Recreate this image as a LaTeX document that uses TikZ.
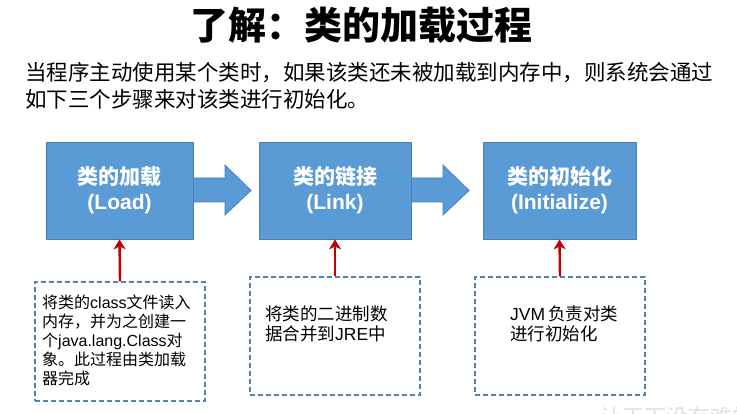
\documentclass[tikz,border=0pt]{standalone}
\usepackage{fontspec}
\setmainfont{Liberation Sans}
\newfontfamily\cjk{Noto Sans CJK SC}
\usetikzlibrary{calc,arrows.meta}
\definecolor{boxblue}{HTML}{5B9BD5}
\definecolor{boxedge}{HTML}{4A7EBB}
\definecolor{dashblue}{HTML}{5B80AD}
\definecolor{arrred}{HTML}{C00000}
\tikzset{
  bluebox/.style={draw=boxedge, fill=boxblue, line width=0.8pt, minimum width=147pt, minimum height=97pt,
    text=white, align=center, font=\fontsize{21}{25}\selectfont\bfseries, inner sep=0pt},
  barrow/.style={draw=boxedge, fill=boxblue, line width=0.8pt, line join=miter},
  dbox/.style={draw=dashblue, line width=1.1pt, dash pattern=on 5pt off 3pt, minimum width=170pt, minimum height=118pt},
  redarr/.style={draw=arrred, line width=2.4pt, -{Stealth[length=10pt,width=12pt,inset=3pt]}},
  desc/.style={anchor=north west, align=left, inner sep=0pt, text=black},
  intro/.style={anchor=west, inner sep=0pt, font=\cjk\fontsize{21.5}{24}\selectfont},
}
\begin{document}
\begin{tikzpicture}[x=1pt,y=-1pt]
\useasboundingbox (0,0) rectangle (737,414);
% title and intro
\node (title) at (361,25) {\cjk\bfseries\fontsize{38}{40}\selectfont 了解：类的加载过程};
\node[intro] (p1) at (25,73) {当程序主动使用某个类时，如果该类还未被加载到内存中，则系统会通过};
\node[intro] (p2) at (25,99) {如下三个步骤来对该类进行初始化。};
% block arrows (drawn first, boxes on top)
\coordinate (e1) at (193,190.5);
\coordinate (e2) at (411,190.5);
\foreach \e in {e1,e2}{
  \draw[barrow] ($(\e)+(0,-12.5)$) -- ($(\e)+(32,-12.5)$) -- ($(\e)+(32,-25.5)$) -- ($(\e)+(58,0)$)
     -- ($(\e)+(32,24.5)$) -- ($(\e)+(32,11.5)$) -- ($(\e)+(0,11.5)$);
}
% main boxes
\node[bluebox] (l1) at (119.5,190.5) {{\cjk\bfseries 类的加载}\\(Load)};
\node[bluebox, minimum width=152pt] (l2) at (335,190.5) {{\cjk\bfseries 类的链接}\\(Link)};
\node[bluebox, minimum width=153pt] (l3) at (559.5,190.5) {{\cjk\bfseries 类的初始化}\\(Initialize)};
% dashed description boxes
\node[dbox, minimum height=119pt] (d1) at (120,341.5) {};
\node[dbox] (d2) at (335,336) {};
\node[dbox] (d3) at (560,336) {};
\node[desc, font=\fontsize{16}{19}\selectfont] (t1) at (42,295)
  {{\cjk 将类的}class{\cjk 文件读入}\\{\cjk 内存，并为之创建一}\\{\cjk 个}java.lang.Class{\cjk 对}\\{\cjk 象。此过程由类加载}\\{\cjk 器完成}};
\node[desc, font=\fontsize{17.5}{20}\selectfont] (t2) at (265,306)
  {{\cjk 将类的二进制数}\\{\cjk 据合并到}JRE{\cjk 中}};
\node[desc, font=\fontsize{17.5}{20}\selectfont] (t3) at (510,306)
  {JVM\,{\cjk 负责对类}\\{\cjk 进行初始化}};
% red arrows
\draw[redarr] (d1.north) -- (l1.south);
\draw[redarr] (d2.north) -- (l2.south);
\draw[redarr] (d3.north) -- (l3.south);
% faint watermark (cut off by the page edge, as in the original)
\node[anchor=west, inner sep=0pt, text=black!12] (wm) at (600,417) {\cjk\fontsize{22}{24}\selectfont 让天下没有难学的技术};
\end{tikzpicture}
\end{document}
